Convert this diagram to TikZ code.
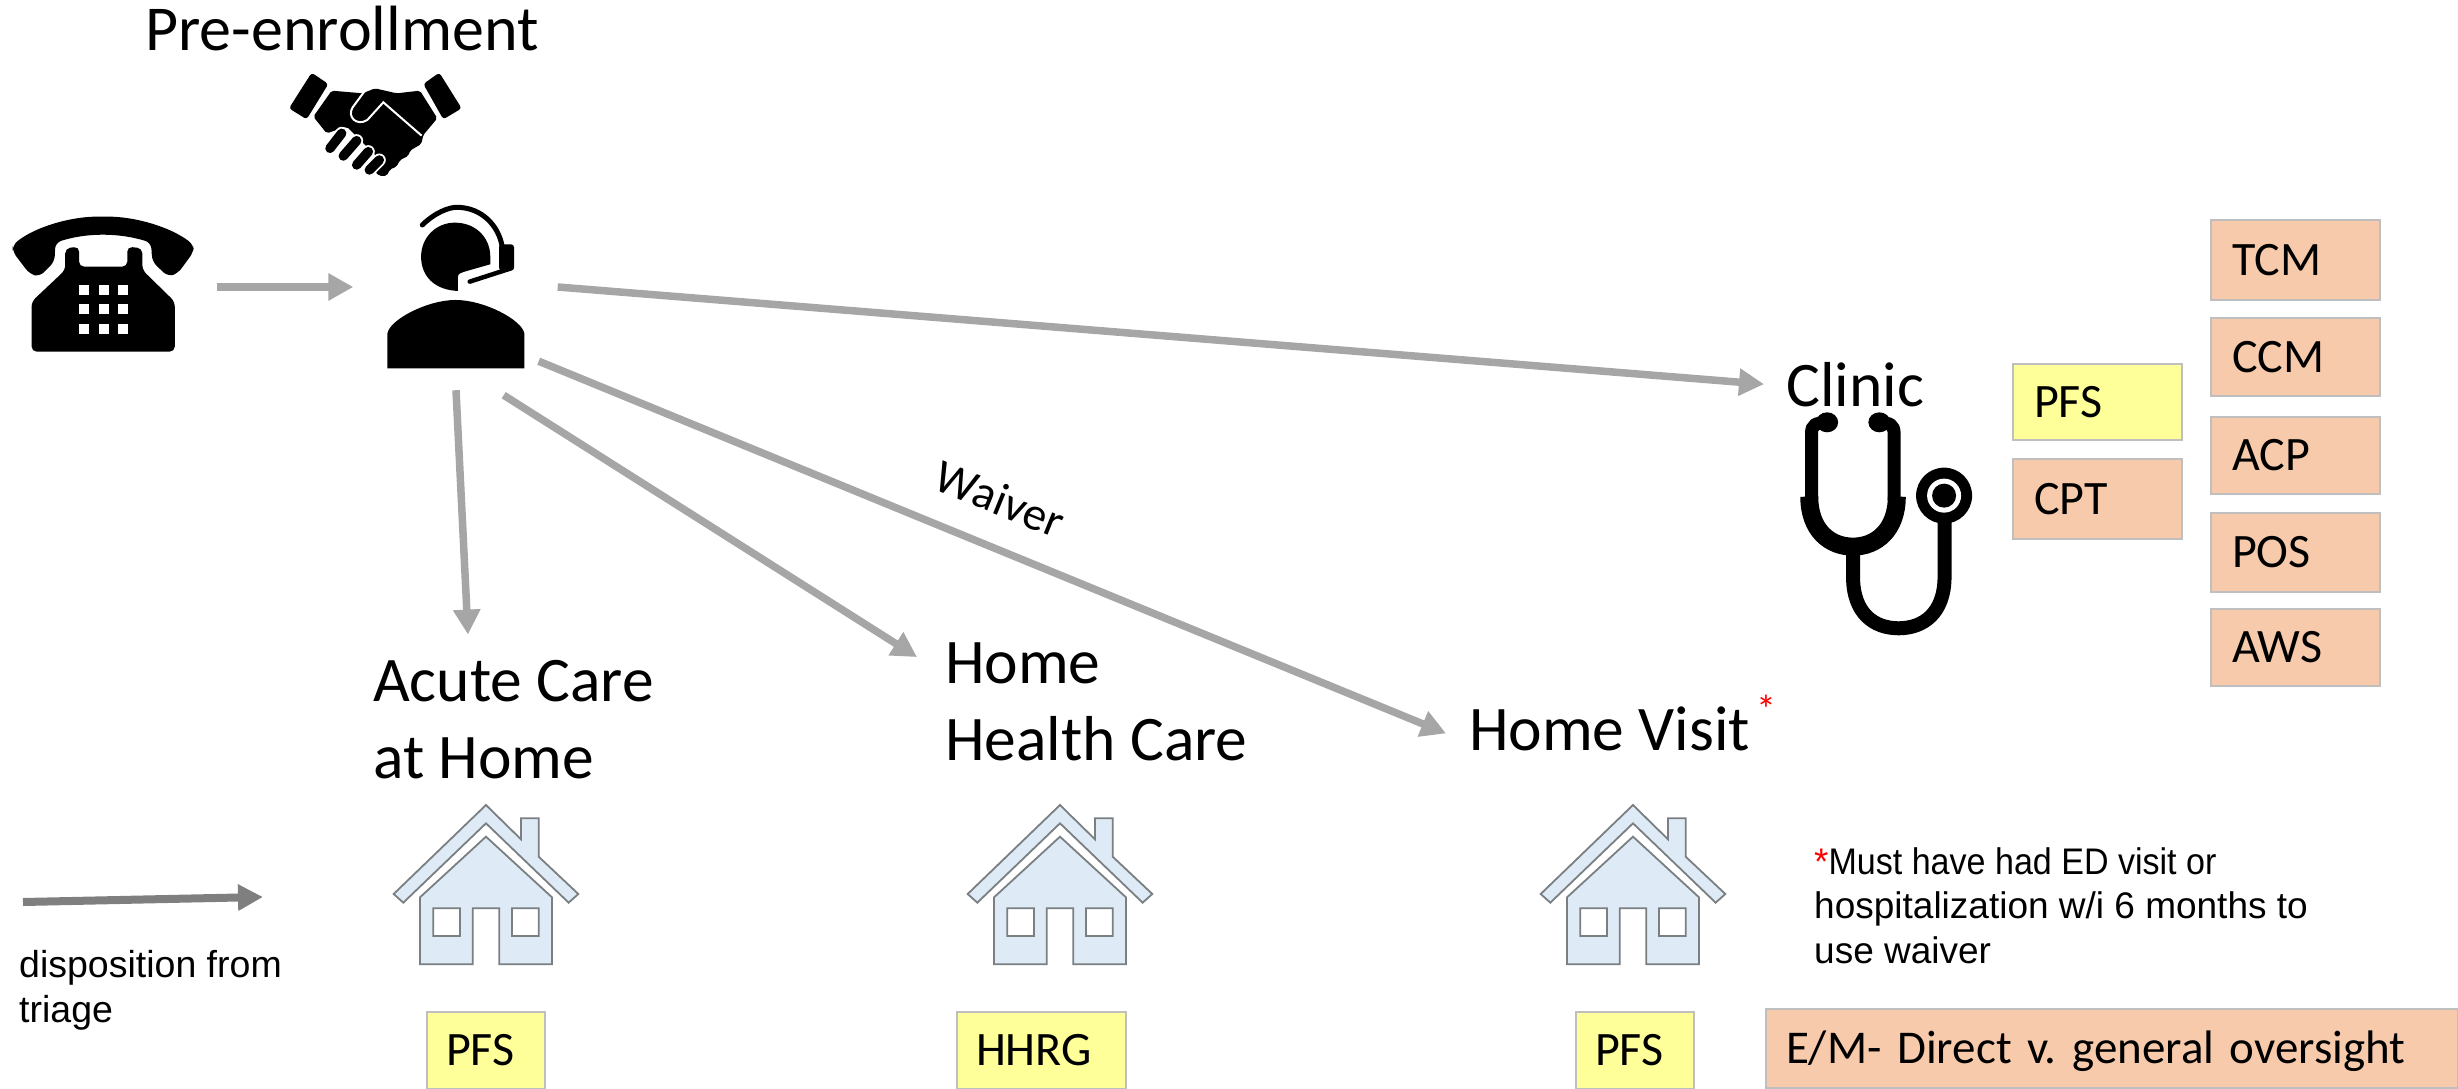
\documentclass[tikz,border=0pt]{standalone}
\usepackage{fontspec}
\setmainfont{Carlito}
\newfontfamily\notefont{Liberation Sans}
\newfontfamily\notetight[FakeStretch=0.92]{Liberation Sans}
\usetikzlibrary{arrows.meta,calc}
\definecolor{peach}{HTML}{F7CAAC}
\definecolor{lemon}{HTML}{FFFF99}
\definecolor{boxline}{HTML}{BFBFBF}
\definecolor{flow}{HTML}{A6A6A6}
\definecolor{legendflow}{HTML}{7F7F7F}
\definecolor{housefill}{HTML}{DEEAF6}
\definecolor{houseline}{HTML}{7A7F82}
\newcommand{\housedraw}[1]{%
 \begin{scope}[shift={(#1,780)},x=.3333pt,y=-.3333pt,xshift=-160pt,line join=miter]
  \draw[housefill,draw=houseline,line width=1.8pt,fill=housefill]
   (480,75)--(585,178)--(585,115)--(638,115)--(638,230)--(757,342)--(728,368)--(480,130)--(232,368)--(203,342)--cycle;
  \draw[draw=houseline,line width=1.8pt,fill=housefill,even odd rule]
   (480,170)--(678,352)--(678,553)--(520,553)--(520,385)--(440,385)--(440,553)--(282,553)--(282,352)--cycle
   (322,385) rectangle (402,468) (558,385) rectangle (638,468);
 \end{scope}}
\tikzset{
 flowline/.style={draw=flow,line width=7.5pt,-{Triangle[length=25pt,width=26pt]}},
 legendline/.style={draw=legendflow,line width=8pt,-{Triangle[length=25pt,width=25pt]}},
 label/.style={inner sep=0pt,anchor=base west,font=\fontsize{63.5}{77}\selectfont,align=left},
 peachbox/.style={rectangle,draw=boxline,line width=2pt,fill=peach,inner xsep=21pt,inner ysep=0pt,
   anchor=north west,align=left,text height=30pt,text depth=0pt,font=\fontsize{48}{50}\selectfont\frenchspacing},
 lemonbox/.style={peachbox,fill=lemon},
 note/.style={inner sep=0pt,anchor=base west,align=left},
 icon/.style={inner sep=0pt,rectangle}
}
\begin{document}
\begin{tikzpicture}[x=1pt,y=-1pt]
\useasboundingbox (0,0) rectangle (2458,1089);
% ---- text labels
\node[label,font=\fontsize{64}{77}\selectfont] (pre) at (145,51) {Pre-enrollment};
\node[label] (clinic) at (1786,406) {Clinic};
\node[label] (acute) at (373,701) {Acute Care};
\node[label] (acute2) at (373,778) {at Home};
\node[label] (home) at (945,683) {Home};
\node[label] (hhc) at (945,760) {Health Care};
\node[label] (visit) at (1469,750) {Home Visit};
\node[inner sep=0pt,text=red,font=\fontsize{40}{44}\selectfont] (star) at (1766,709) {*};
\node[rotate=-22,inner sep=0pt,font=\fontsize{47}{52}\selectfont] (waiver) at (1000,499) {Waiver};
% ---- icon anchors
\node[icon,minimum width=183pt,minimum height=138pt] (phone) at (103,286) {};
\node[icon,minimum width=203pt,minimum height=206pt] (agent) at (456,287) {};
% ---- boxes
\node[peachbox,text width=127pt,minimum height=80pt] (tcm) at (2210,219) {TCM};
\node[peachbox,text width=127pt,minimum height=78pt] (ccm) at (2210,317) {CCM};
\node[peachbox,text width=127pt,minimum height=77pt] (acp) at (2210,416) {ACP};
\node[peachbox,text width=127pt,minimum height=79pt] (pos) at (2210,512) {POS};
\node[peachbox,text width=127pt,minimum height=77pt] (aws) at (2210,608) {AWS};
\node[lemonbox,text width=127pt,minimum height=76pt] (pfsa) at (2012,363) {PFS};
\node[peachbox,text width=127pt,minimum height=80pt] (cpt) at (2012,458) {CPT};
\node[lemonbox,text width=80pt,minimum height=77pt,inner xsep=19pt] (pfsb) at (426,1011) {PFS};
\node[lemonbox,text width=131pt,minimum height=77pt,inner xsep=19pt] (hhrg) at (956,1011) {HHRG};
\node[lemonbox,text width=80pt,minimum height=77pt,inner xsep=19pt] (pfsc) at (1575,1011) {PFS};
\node[peachbox,text width=652pt,minimum height=79pt,inner xsep=20pt,font=\fontsize{47}{50}\selectfont\frenchspacing] (em) at (1765,1008) {E/M- Direct v. general oversight};
% ---- notes
\node[note,font=\notefont\fontsize{37.5}{45}\selectfont] (dispo) at (19,1022) {disposition from\\triage};
\node[note,font=\notefont\fontsize{37}{44.5}\selectfont] (must) at (1814,963) {\textcolor{red}{*}{\notetight\fontsize{37}{44.5}\selectfont Must have had ED visit or}\\hospitalization w/i 6 months to\\use waiver};
\coordinate (legstart) at (23,902);
\coordinate (legend) at (263,897);
% ---- connectors
\draw[flowline] (phone.east)+(22,1) -- ([xshift=-1pt]agent.west);
\draw[flowline] (agent.east) -- ([xshift=-22pt]clinic.west);
\draw[flowline] (agent.south) -- ([xshift=95pt,yshift=25pt]acute.north west);
\draw[flowline] ([xshift=-54pt,yshift=-5pt]agent.south east) -- ([xshift=-28pt,yshift=-15pt]home.north west);
\draw[flowline] ([xshift=-19pt,yshift=29pt]agent.south east) -- ([xshift=-23pt,yshift=-5pt]visit.west);
\draw[legendline] (legstart) -- (legend);
% ---- phone
\begin{scope}[x=.3954pt,y=-.3333pt]
 \fill[black,rounded corners=6pt] (32,735) .. controls (90,680) and (180,650) .. (260,650) .. controls (340,650) and (430,680) .. (490,735)
   -- (490,755) -- (450,820) -- (425,830) -- (385,785) -- (382,728) .. controls (300,698) and (220,698) .. (140,728) -- (138,785) -- (100,830) -- (75,822) -- (32,755) -- cycle;
 \fill[black,rounded corners=5pt] (165,810) -- (165,745) -- (200,740) -- (200,800) -- (322,800) -- (322,740) -- (360,745) -- (360,810) -- (442,905) -- (442,1055) -- (80,1055) -- (80,905) -- cycle;
 \foreach \u in {200,250,298}\foreach \v in {855,913,972}
   \fill[white] (\u,\v) rectangle +(26,29);
\end{scope}
% ---- agent
\begin{scope}[x=.3954pt,y=-.3333pt]
 \fill[black] (1158,873) .. controls (1100,870) and (1065,830) .. (1065,770) .. controls (1065,710) and (1105,668) .. (1150,668) .. controls (1205,668) and (1240,715) .. (1240,770) -- (1240,793) -- (1175,815) .. controls (1158,822) .. (1158,840) -- cycle;
 \draw[black,line width=5pt,line cap=round] (1068,675) .. controls (1100,638) and (1135,622) .. (1155,622) .. controls (1220,622) and (1262,680) .. (1270,740) -- (1275,800);
 \fill[black,rounded corners=3pt] (1262,733) -- (1300,733) -- (1300,812) -- (1262,812) -- cycle;
 \draw[black,line width=4.5pt,line cap=round] (1290,806) -- (1188,845);
 \fill[black] (980,1105) -- (980,1000) .. controls (985,960) and (1080,900) .. (1152,900) .. controls (1225,900) and (1320,960) .. (1326,1000) -- (1326,1105) -- cycle;
\end{scope}
% ---- handshake
\begin{scope}[shift={(280,70)},x=.3333pt,y=-.3333pt]
 \fill[black,rounded corners=3pt] (95,8) -- (145,42) -- (80,148) -- (27,115) -- cycle;
 \fill[black,rounded corners=3pt] (478,8) -- (545,115) -- (490,148) -- (430,42) -- cycle;
 \fill[black,rounded corners=2pt] (155,62) -- (248,70) -- (285,55) -- (350,70) -- (420,62) -- (472,145) -- (430,195) -- (424,222) -- (390,242) -- (385,258) -- (360,270) -- (350,290) -- (330,298) -- (320,318) -- (298,318) -- (285,305) -- (300,270) -- (200,170) -- (140,190) -- (100,140) -- cycle;
 \draw[white,line width=2pt] (255,62) -- (218,112) .. controls (200,140) and (230,170) .. (262,150) -- (310,97) -- (425,197);
 \foreach \a/\b/\c/\d in {150/235/185/190,190/258/230/212,230/285/265/245,268/300/298/270}{
   \draw[white,line width=13pt,line cap=round] (\a,\b) -- (\c,\d);
   \draw[black,line width=9.5pt,line cap=round] (\a,\b) -- (\c,\d);}
\end{scope}
% ---- stethoscope
\begin{scope}[shift={(1720,200)},x=.4464pt,y=-.3333pt,line cap=butt]
 \draw[black,line width=13pt] (238,668) .. controls (215,668) and (205,675) .. (205,700) -- (205,900);
 \draw[black,line width=13pt] (358,668) .. controls (380,668) and (390,675) .. (390,700) -- (390,900);
 \fill[black] (240,667) ellipse [x radius=11pt,y radius=10pt];
 \fill[black] (357,667) ellipse [x radius=11pt,y radius=10pt];
 \draw[black,line width=18pt] (200,890) .. controls (200,990) and (245,1040) .. (298,1040) .. controls (350,1040) and (396,990) .. (396,890);
 \draw[black,line width=14pt] (298,1040) -- (298,1130) .. controls (298,1240) and (345,1285) .. (400,1285) .. controls (455,1285) and (503,1240) .. (503,1130) -- (503,940);
 \fill[black] (502,887) ellipse [x radius=28pt,y radius=28pt];
 \fill[white] (502,887) ellipse [x radius=17pt,y radius=17pt];
 \fill[black] (502,887) ellipse [x radius=12pt,y radius=12pt];
\end{scope}
% ---- houses
\housedraw{486}
\housedraw{1060}
\housedraw{1633}
\end{tikzpicture}
\end{document}
